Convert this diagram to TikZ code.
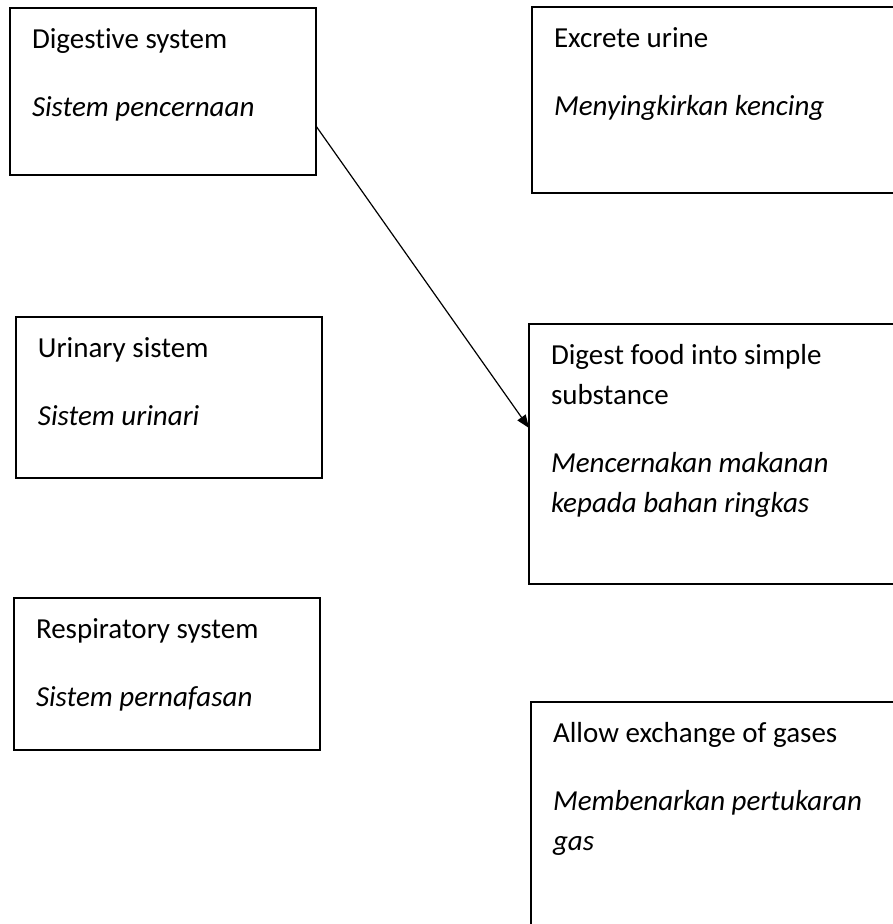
\documentclass[tikz,border=0pt]{standalone}
\usepackage{fontspec}
\setmainfont[Ligatures=NoCommon]{Carlito}
\usepackage{tikz}
\usetikzlibrary{arrows.meta}

\newcommand{\boxtext}[3]{\parbox[c][#1][t]{#2}{\raggedright\leftskip=22pt\rule{0pt}{40pt}#3}}

\begin{document}
\begin{tikzpicture}[x=1pt, y=-1pt,
		sysbox/.style={draw, line width=1.2pt, inner sep=0pt, outer sep=0pt, anchor=north west, font=\fontsize{29pt}{40pt}\selectfont},
		link/.style={-{Triangle[length=13pt, width=10pt]}, line width=1.2pt}]
				\useasboundingbox (0,0) rectangle (893,924);
				\clip (0,0) rectangle (893,924);
				\node[sysbox] (dig) at (10,8) {\boxtext{167pt}{306pt}{Digestive system\par\vspace{28pt}\textit{Sistem pencernaan}}};
				\node[sysbox] (uri) at (16,317) {\boxtext{161pt}{306pt}{Urinary sistem\par\vspace{28pt}\textit{Sistem urinari}}};
				\node[sysbox] (res) at (14,598) {\boxtext{152pt}{306pt}{Respiratory system\par\vspace{28pt}\textit{Sistem pernafasan}}};
				\node[sysbox] (exc) at (532,7) {\boxtext{186pt}{400pt}{Excrete urine\par\vspace{28pt}\textit{Menyingkirkan kencing}}};
				\node[sysbox] (food) at (529,324) {\boxtext{260pt}{400pt}{Digest food into simple\\substance\par\vspace{28pt}\textit{Mencernakan makanan\\kepada bahan ringkas}}};
				\node[sysbox] (gas) at (531,702) {\boxtext{260pt}{400pt}{Allow exchange of gases\par\vspace{28pt}\textit{Membenarkan pertukaran\\gas}}};
				\draw[link] ([yshift=49pt]dig.south east) -- ([yshift=-104pt]food.north west);
			\end{tikzpicture}
\end{document}
